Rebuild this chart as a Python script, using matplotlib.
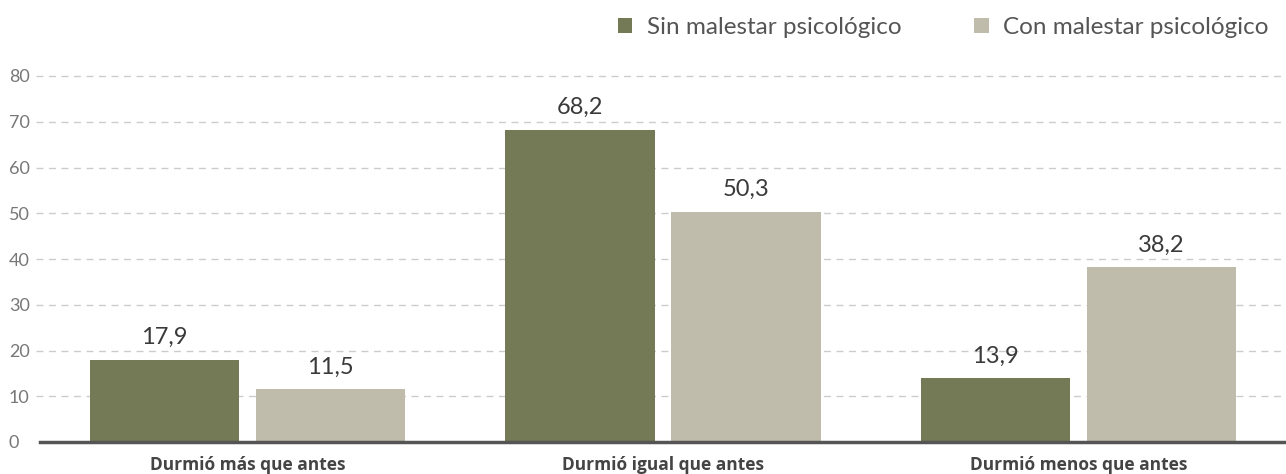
import matplotlib
matplotlib.use("Agg")
import matplotlib.pyplot as plt
import numpy as np

categories = ["Durmió más que antes", "Durmió igual que antes", "Durmió menos que antes"]
series_names = ["Sin malestar psicológico", "Con malestar psicológico"]
sin_malestar = [17.9, 68.2, 13.9]
con_malestar = [11.5, 50.3, 38.2]
yticks = [0, 10, 20, 30, 40, 50, 60, 70, 80]

colors = ["#747a55", "#bfbcab"]

plt.rcParams['font.family'] = ['Lato', 'DejaVu Sans']

W, H = 1286, 474
fig = plt.figure(figsize=(W / 100, H / 100), dpi=100)
ax = fig.add_axes([40 / W, (H - 442) / H, 1 - 40 / W, (442 - 76) / H])

x = np.arange(len(categories))
bw = 0.36
off = 0.2
handles = []
for vals, col, sgn, name in [(sin_malestar, colors[0], -1, series_names[0]),
                             (con_malestar, colors[1], 1, series_names[1])]:
    bars = ax.bar(x + sgn * off, vals, width=bw, color=col, zorder=3, label=name)
    handles.append(bars)
    for b, v in zip(bars, vals):
        ax.annotate(f"{v:.1f}".replace(".", ","), (b.get_x() + b.get_width() / 2, v),
                    xytext=(0, 8.5), textcoords="offset points", ha="center", va="bottom",
                    fontsize=17, color="#3a3a3a", zorder=4)

ax.set_xlim(-0.5, 2.5)
ax.set_ylim(0, 80)

for t in yticks[1:]:
    ax.plot([-0.003, 1], [t, t], transform=ax.get_yaxis_transform(), color="#cccccc",
            lw=1, ls=(0, (5, 4)), zorder=1, clip_on=False)

for s in ["top", "right", "left"]:
    ax.spines[s].set_visible(False)
ax.spines["bottom"].set_color("#555555")
ax.spines["bottom"].set_linewidth(2.5)
ax.spines["bottom"].set_zorder(5)

ax.set_yticks(yticks)
ax.set_yticklabels([str(t) for t in yticks])
ax.tick_params(axis="y", length=0, pad=22.5, labelsize=13, labelcolor="#777777")
for lab in ax.get_yticklabels():
    lab.set_horizontalalignment("left")

ax.set_xticks(x)
ax.set_xticklabels(categories, fontsize=12.5, fontweight="bold", color="#444444",
                   family=["Open Sans", "DejaVu Sans"])
ax.tick_params(axis="x", length=0, pad=10)

leg = fig.legend(handles=handles, labels=series_names, loc="upper right",
                 bbox_to_anchor=(1.0, 1.0),
                 ncol=2, frameon=False, fontsize=17.5, handlelength=0.6, handleheight=0.6,
                 handletextpad=0.6, columnspacing=3.0, borderaxespad=0.3)
for t in leg.get_texts():
    t.set_color("#555555")

fig.savefig("out.png", dpi=100)
